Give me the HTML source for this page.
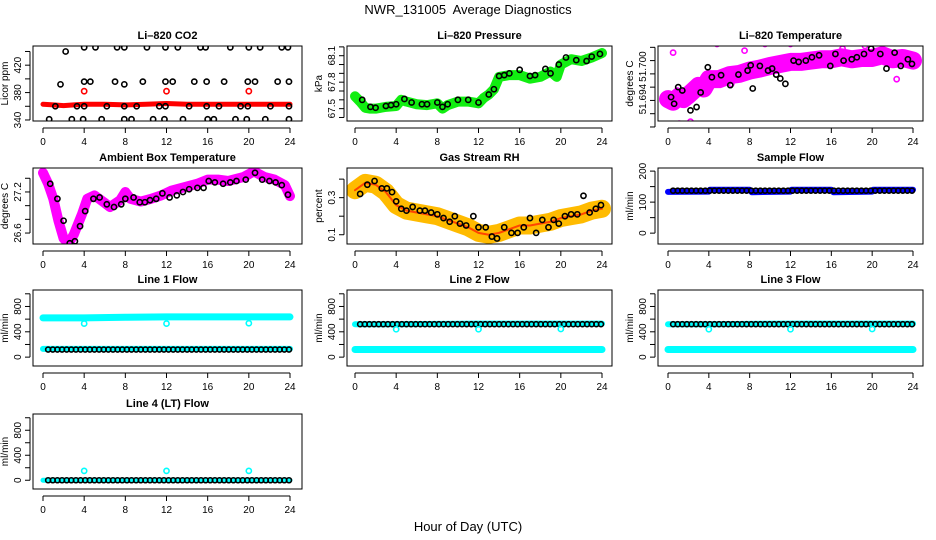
<!DOCTYPE html>
<html><head><meta charset="utf-8"><style>
html,body{margin:0;padding:0;background:#fff}
svg{display:block;font-family:"Liberation Sans",sans-serif}
</style></head><body>
<svg id="c" width="936" height="540" viewBox="0 0 936 540">
<text x="468" y="14" text-anchor="middle" font-size="13">NWR_131005&#160; Average Diagnostics</text>
<text x="468" y="531" text-anchor="middle" font-size="13">Hour of Day (UTC)</text>
</svg>
<script>
// ---- data ----
const hourTicks=[0,4,8,12,16,20,24];
// CO2
const co2TopHours=[2.2,4.0,5.1,7.2,7.9,10.1,11.9,13.1,15.3,15.8,18.2,20.0,21.1,23.2,23.8];
const co2TopVals=[440,446,446,446,446,446,446,446,446,446,446,446,446,446,446];
const co2MidHours=[1.7,4.0,4.6,7.0,7.9,9.7,11.9,12.6,14.7,15.9,17.6,19.9,20.6,22.8,23.9];
const co2MidVals=[392,396,396,396,392,396,396,396,396,396,396,396,396,396,396];
const co2LowHours=[1.2,3.3,4.0,6.2,7.9,9.1,11.3,11.9,14.2,15.9,17.1,19.2,19.9,22.1,23.9];
const co2LowVals=[360,360,360,360,360,360,360,360,360,360,360,360,360,360,360];
const co2BotHours=[0.6,2.8,3.9,5.7,7.9,8.6,10.7,11.8,13.6,16.0,16.6,18.7,19.8,21.6,23.9];
const co2BotVals=[341,341,341,341,341,341,341,341,341,341,341,341,341,341,341];
const co2RedHours=[0,1,2,3,4,6,8,10,12,14,16,18,20,22,24];
const co2RedVals=[363,362,361,362,363,363,362,363,364,363,363,363,363,363,363];
const co2RedPtHours=[4,12,20];
const co2RedPtVals=[382,382,382];
// Pressure
const presHours=[0,0.5,1,1.5,2,3,4,4.5,5,6,7,8,8.5,9,10,11,12,12.5,13,13.5,14,15,16,17,18,19,19.6,20,21,22,23,24];
const presVals=[67.64,67.58,67.51,67.5,67.5,67.52,67.53,67.6,67.58,67.55,67.54,67.56,67.5,67.54,67.58,67.58,67.56,67.62,67.66,67.72,67.86,67.88,67.88,67.84,67.86,67.92,67.86,68.0,68.06,68.04,68.08,68.13];
const presPtHours=[0.7,1.5,2,3,3.5,4,4.8,5.5,6.5,7,8,8.5,9,10,11,12,13,13.5,14,14.5,15,16,17,17.5,18.5,19,19.8,20.5,21.5,22.5,23,23.8];
const presPtVals=[67.6,67.52,67.51,67.53,67.54,67.55,67.61,67.57,67.55,67.55,67.57,67.52,67.55,67.6,67.6,67.57,67.66,67.72,67.87,67.88,67.9,67.94,67.87,67.88,67.95,67.9,68.0,68.08,68.05,68.04,68.09,68.12];
// Li-820 temperature
const ltHours=[0,0.5,1,1.5,2,2.5,3,3.5,4,5,6,7,8,9,10,11,12,13,14,15,16,17,18,19,20,21,22,23,24];
const ltVals=[51.6962,51.6958,51.6965,51.6962,51.6968,51.6975,51.6982,51.6978,51.6992,51.6992,51.6998,51.7,51.7005,51.7008,51.7012,51.7015,51.7018,51.7018,51.702,51.7022,51.7022,51.7025,51.7022,51.7024,51.7024,51.7028,51.7022,51.7024,51.702];
const ltPtHours=[0.3,0.6,1,1.4,2.2,2.8,3.2,3.9,4.3,5.2,6.1,6.9,7.8,8.1,8.3,9.0,9.8,10.2,10.6,11,11.5,12.3,12.8,13.5,14.1,14.8,15.9,16.4,17.2,18.0,18.5,19.2,19.9,20.8,21.4,22.2,22.8,23.5,23.9];
const ltPtVals=[51.6965,51.6955,51.698,51.6975,51.6945,51.695,51.6972,51.701,51.6995,51.6998,51.6983,51.6999,51.7005,51.7013,51.6978,51.7012,51.7005,51.7008,51.6999,51.6993,51.6985,51.702,51.7018,51.702,51.7025,51.7028,51.7012,51.703,51.702,51.7022,51.7025,51.703,51.7038,51.703,51.7008,51.7032,51.7012,51.7022,51.7015];
const ltPinkHours=[0.5,0.9,1.1,2.2,2.9,3.2,4.8,6.2,7.5,9.5,12.0,13.6,15.5,17.1,19.3,21.2,22.4];
const ltPinkVals=[51.7032,51.6975,51.6925,51.6928,51.7048,51.6918,51.7045,51.6985,51.7035,51.7045,51.7045,51.7048,51.7048,51.7038,51.7042,51.7048,51.6992];
// Ambient
const ambHours=[0,0.5,1,1.5,2,2.5,3,3.8,4.3,5,6,6.5,7.5,8,8.5,9.5,10.5,11.5,12.5,13.5,15,16,17,18,19.5,20.5,21.5,22.5,23.5,24];
const ambVals=[27.48,27.32,27.1,26.78,26.52,26.45,26.58,26.88,27.1,27.15,27.04,26.98,27.08,27.2,27.1,27.06,27.1,27.15,27.22,27.26,27.32,27.38,27.38,27.36,27.42,27.5,27.42,27.38,27.3,27.14];
const ambPtHours=[0.7,1.4,2.0,2.6,3.1,3.6,4.1,4.9,5.5,6.2,6.9,7.6,8.0,8.8,9.4,9.9,10.4,11.0,11.6,12.3,13.0,13.6,14.2,15.0,15.6,16.1,16.7,17.5,18.2,18.8,19.7,20.6,21.3,22.0,22.6,23.2,23.8];
const ambPtVals=[27.32,27.1,26.78,26.45,26.48,26.7,26.92,27.1,27.12,27.02,26.98,27.02,27.1,27.12,27.05,27.05,27.08,27.1,27.18,27.12,27.15,27.2,27.24,27.26,27.26,27.36,27.34,27.32,27.34,27.36,27.38,27.48,27.38,27.36,27.34,27.3,27.16];
// RH
const rhHours=[0,1,2,3,4,5,6,7,8,9,10,11,12,13,14,15,16,17,18,19,20,21,22,23,24];
const rhVals=[0.34,0.38,0.37,0.33,0.26,0.23,0.22,0.21,0.2,0.18,0.16,0.14,0.11,0.1,0.11,0.13,0.15,0.15,0.16,0.17,0.19,0.2,0.21,0.23,0.24];
const rhPtHours=[0.5,1.2,1.9,2.6,3.1,3.6,4.0,4.5,5.0,5.6,6.3,6.8,7.4,8.0,8.6,9.2,9.7,10.2,10.8,11.5,12.0,12.7,13.3,13.8,14.5,15.2,15.8,16.4,17.0,17.6,18.2,18.8,19.3,19.8,20.4,21.0,21.6,22.2,22.8,23.4,23.9];
const rhPtVals=[0.32,0.37,0.39,0.35,0.35,0.33,0.28,0.24,0.23,0.25,0.23,0.23,0.22,0.21,0.19,0.17,0.2,0.16,0.15,0.2,0.14,0.14,0.09,0.08,0.14,0.11,0.11,0.14,0.19,0.11,0.18,0.14,0.18,0.16,0.2,0.21,0.21,0.31,0.22,0.24,0.26];
// Sample flow
const sfHours=[0,4,4.1,8,8.2,12,12.1,16,16.2,20,20.1,24];
const sfVals=[133,134,140,140,132,134,140,140,132,134,140,140];
// Line flows
const l1CyanHigh=[620,620,630,635,635,635];
const l1BlackVals=[120];
const l1CyanLowVals=[130];
const l2BlackVals=[520];
const l2CyanHigh=[520,520,525,530,530,530];
const l2CyanLowVals=[120];
const l4BlackVals=[0];
const flowBandHours=[0,4,8,12,16,24];
const outlierHours=[4,12,20];
const l1OutVals=[530,530,535];
const l2OutVals=[440,440,445];
const l4OutVals=[150,150,150];
</script>
<script>
const svg=document.getElementById('c');
const NS='http://www.w3.org/2000/svg';
function mk(tag,attrs,parent){const e=document.createElementNS(NS,tag);for(const k in attrs)e.setAttribute(k,attrs[k]);(parent||svg).appendChild(e);return e;}
function panel(cfg){
  const g=mk('g',{});
  
  
  const xs=h=>cfg.x0+(cfg.x24-cfg.x0)*h/24;
  const ys=v=>cfg.bot-(v-cfg.ymin)*(cfg.bot-cfg.top)/(cfg.ymax-cfg.ymin);
  const clipId='clip'+cfg.name;
  const cp=mk('clipPath',{id:clipId},g);mk('rect',{x:cfg.l,y:cfg.top,width:cfg.r-cfg.l,height:cfg.bot-cfg.top},cp);
  const plot=mk('g',{'clip-path':'url(#'+clipId+')'},g);
  const t=mk('text',{x:(cfg.l+cfg.r)/2,y:cfg.top-7,'text-anchor':'middle','font-size':11,'font-weight':'bold'},g);
  t.textContent=cfg.title;
  
  
  mk('rect',{x:cfg.l,y:cfg.top,width:cfg.r-cfg.l,height:cfg.bot-cfg.top,fill:'none',stroke:'#000','stroke-width':1},g);
  const ay=cfg.bot+7;
  mk('line',{x1:xs(0),y1:ay,x2:xs(24),y2:ay,stroke:'#000'},g);
  hourTicks.forEach(h=>{mk('line',{x1:xs(h),y1:ay,x2:xs(h),y2:ay+5,stroke:'#000'},g);
    const tx=mk('text',{x:xs(h),y:ay+17,'text-anchor':'middle','font-size':10},g);tx.textContent=h;
    
    });
  const ax=cfg.l-3;
  mk('line',{x1:ax,y1:ys(cfg.ticks[0]),x2:ax,y2:ys(cfg.ticks[cfg.ticks.length-1]),stroke:'#000'},g);
  cfg.ticks.forEach(v=>mk('line',{x1:ax,y1:ys(v),x2:ax-5,y2:ys(v),stroke:'#000'},g));
  cfg.labels.forEach((lab,i)=>{const yy=ys(cfg.labelVals[i]);
    const tx=mk('text',{x:ax-9,y:yy,'text-anchor':'middle','font-size':10,transform:`rotate(-90 ${ax-9} ${yy})`},g);tx.textContent=lab;
    
    });
  const yl=mk('text',{x:cfg.l-25,y:(cfg.top+cfg.bot)/2,'text-anchor':'middle','font-size':10,transform:`rotate(-90 ${cfg.l-25} ${(cfg.top+cfg.bot)/2})`},g);
  yl.textContent=cfg.ylab;
  
  
  return {xs,ys,plot};
}
function band(p,hs,vs,color,w,name){const pts=hs.map((h,i)=>p.xs(h)+','+p.ys(vs[i])).join(' ');
  const e=mk('polyline',{points:pts,fill:'none',stroke:color,'stroke-width':w,'stroke-linejoin':'round','stroke-linecap':'round'},p.plot);
  
  }
function pts(p,hs,vs,color,name,r,sw){hs.forEach((h,i)=>{const e=mk('circle',{cx:p.xs(h),cy:p.ys(vs[i]),r:r||2.6,fill:'none',stroke:color,'stroke-width':sw||1.6},p.plot);
  
  });}
function hline(p,v,color,w,name,h0,h1){const e=mk('line',{x1:p.xs(h0),y1:p.ys(v),x2:p.xs(h1),y2:p.ys(v),stroke:color,'stroke-width':w,'stroke-linecap':'round'},p.plot);
  
  }
function chain(p,v,color,name,h0,h1,step){for(let h=h0;h<=h1+1e-9;h+=step){const e=mk('circle',{cx:p.xs(h),cy:p.ys(v),r:2.5,fill:'none',stroke:color,'stroke-width':1.6},p.plot);
  
  }}

const C1={l:33,r:302,x0:43,x24:290}, C2={l:347,r:612,x0:355,x24:602}, C3={l:658,r:923,x0:668,x24:913};
const R=[{top:46,bot:121},{top:168,bot:244},{top:290,bot:366},{top:414,bot:489}];
const flowTicks=[0,200,400,600,800,1000];

// CO2
let p=panel({...C1,...R[0],name:'co2-panel',title:'Li\u2013820 CO2',ylab:'Licor ppm',ymin:338.5,ymax:448,ticks:[340,360,380,400,420,440],labels:['340','380','420'],labelVals:[340,380,420]});
band(p,co2RedHours,co2RedVals,'#f00',5,'co2-red-series');
pts(p,co2RedPtHours,co2RedPtVals,'#f00','co2-red-point');
pts(p,co2TopHours,co2TopVals,'#000','co2-point');
pts(p,co2MidHours,co2MidVals,'#000','co2-point');
pts(p,co2LowHours,co2LowVals,'#000','co2-point');
pts(p,co2BotHours,co2BotVals,'#000','co2-point');
// Pressure
p=panel({...C2,...R[0],name:'pressure-panel',title:'Li\u2013820 Pressure',ylab:'kPa',ymin:67.36,ymax:68.21,ticks:[67.4,67.5,67.6,67.7,67.8,67.9,68.0,68.1,68.2],labels:['67.5','67.8','68.1'],labelVals:[67.5,67.8,68.1]});
band(p,presHours,presVals,'#1e1',10,'pressure-band');
pts(p,presPtHours,presPtVals,'#000','pressure-point');
// Li-820 temp
p=panel({...C3,...R[0],name:'li820-temperature-panel',title:'Li\u2013820 Temperature',ylab:'degrees C',ymin:51.6929,ymax:51.7042,ticks:[51.692,51.694,51.696,51.698,51.700,51.702,51.704],labels:['51.694','51.700'],labelVals:[51.6962,51.7011]});
band(p,ltHours,ltVals,'#f0f',18,'temperature-band');
pts(p,ltPinkHours,ltPinkVals,'#f0f','temperature-pink-point');
pts(p,ltPtHours,ltPtVals,'#000','temperature-point');
// Ambient
p=panel({...C1,...R[1],name:'ambient-temperature-panel',title:'Ambient Box Temperature',ylab:'degrees C',ymin:26.44,ymax:27.55,ticks:[26.6,26.8,27.0,27.2,27.4],labels:['26.6','27.2'],labelVals:[26.6,27.2]});
band(p,ambHours,ambVals,'#f0f',10,'ambient-band');
pts(p,ambPtHours,ambPtVals,'#000','ambient-point');
// RH
p=panel({...C2,...R[1],name:'gas-stream-rh-panel',title:'Gas Stream RH',ylab:'percent',ymin:0.05,ymax:0.46,ticks:[0.1,0.2,0.3,0.4],labels:['0.1','0.3'],labelVals:[0.1,0.3]});
band(p,rhHours,rhVals,'#fb0',18,'rh-band');
band(p,rhHours,rhVals,'#f40',2,'rh-band-red');
pts(p,rhPtHours,rhPtVals,'#000','rh-point');
// Sample flow
p=panel({...C3,...R[1],name:'sample-flow-panel',title:'Sample Flow',ylab:'ml/min',ymin:-35,ymax:210,ticks:[0,50,100,150,200],labels:['0','100','200'],labelVals:[0,100,200]});
band(p,sfHours,sfVals,'#00f',6,'sample-flow-band');
chain(p,137,'#000','sample-flow-point',0.5,23.9,0.45);
// Line 1
p=panel({...C1,...R[2],name:'line1-flow-panel',title:'Line 1 Flow',ylab:'ml/min',ymin:-140,ymax:1060,ticks:flowTicks,labels:['0','400','800'],labelVals:[0,400,800]});
band(p,flowBandHours,l1CyanHigh,'#0ff',7,'line1-cyan-high');
hline(p,l1CyanLowVals[0],'#0ff',6,'line1-cyan-low',0,24);
chain(p,l1BlackVals[0],'#000','line1-point',0.5,23.9,0.45);
pts(p,outlierHours,l1OutVals,'#0ff','line1-outlier');
// Line 2
p=panel({...C2,...R[2],name:'line2-flow-panel',title:'Line 2 Flow',ylab:'ml/min',ymin:-140,ymax:1060,ticks:flowTicks,labels:['0','400','800'],labelVals:[0,400,800]});
band(p,flowBandHours,l2CyanHigh,'#0ff',6,'line2-cyan-high');
hline(p,l2CyanLowVals[0],'#0ff',7,'line2-cyan-low',0,24);
chain(p,l2BlackVals[0],'#000','line2-point',0.5,23.9,0.45);
pts(p,outlierHours,l2OutVals,'#0ff','line2-outlier');
// Line 3
p=panel({...C3,...R[2],name:'line3-flow-panel',title:'Line 3 Flow',ylab:'ml/min',ymin:-140,ymax:1060,ticks:flowTicks,labels:['0','400','800'],labelVals:[0,400,800]});
band(p,flowBandHours,l2CyanHigh,'#0ff',6,'line3-cyan-high');
hline(p,l2CyanLowVals[0],'#0ff',7,'line3-cyan-low',0,24);
chain(p,l2BlackVals[0],'#000','line3-point',0.5,23.9,0.45);
pts(p,outlierHours,l2OutVals,'#0ff','line3-outlier');
// Line 4
p=panel({...C1,...R[3],name:'line4-flow-panel',title:'Line 4 (LT) Flow',ylab:'ml/min',ymin:-140,ymax:1060,ticks:flowTicks,labels:['0','400','800'],labelVals:[0,400,800]});
hline(p,0,'#0ff',5,'line4-cyan',0,24);
chain(p,l4BlackVals[0],'#000','line4-point',0.5,23.9,0.45);
pts(p,outlierHours,l4OutVals,'#0ff','line4-outlier');
</script>
</body></html>
